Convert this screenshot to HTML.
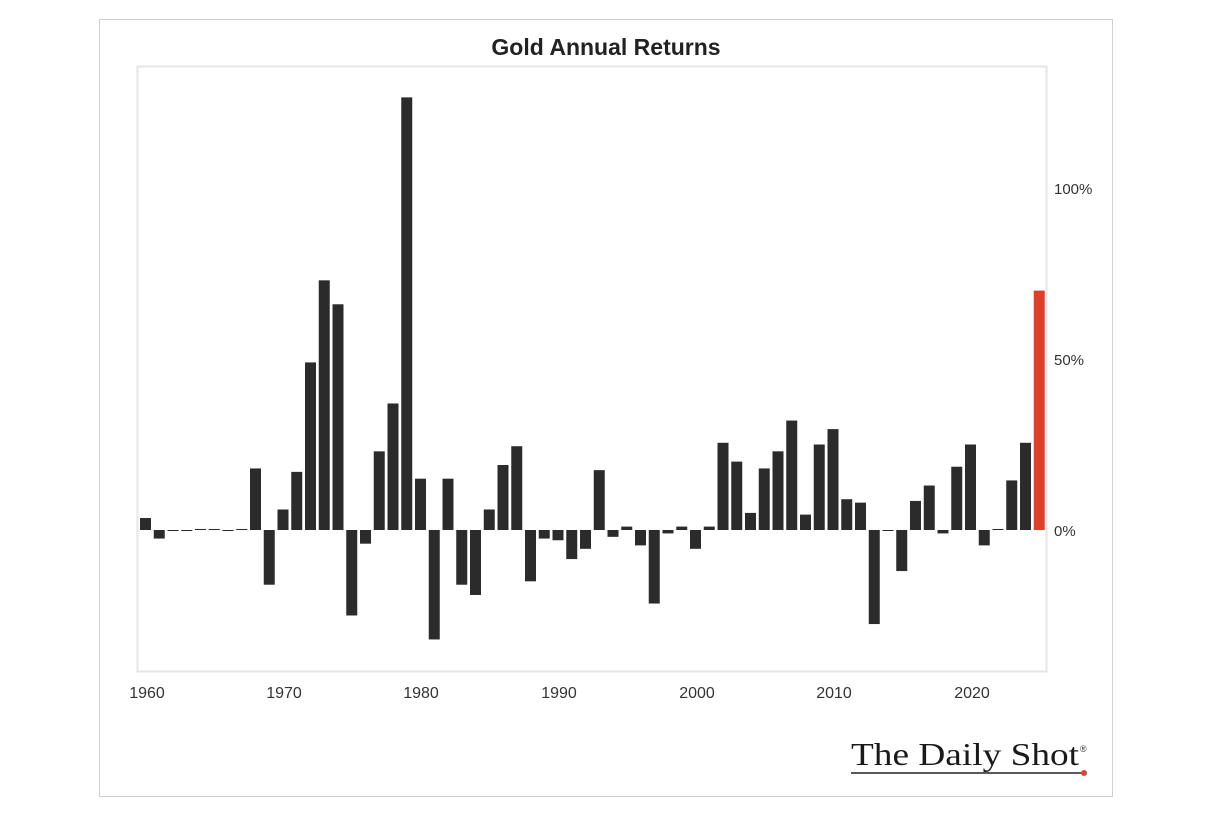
<!DOCTYPE html>
<html><head><meta charset="utf-8"><style>
html,body{margin:0;padding:0;background:#fff;}
svg{display:block;}
</style></head><body>
<svg width="1228" height="816" viewBox="0 0 1228 816" xmlns="http://www.w3.org/2000/svg">
<rect x="99.5" y="19.5" width="1013" height="777" fill="#fff" stroke="#d0d0d0" stroke-width="1"/>
<text x="606" y="55" text-anchor="middle" font-family="Liberation Sans, sans-serif" font-size="23" font-weight="bold" fill="#222">Gold Annual Returns</text>
<rect x="137.5" y="66.5" width="909" height="605" fill="none" stroke="#e6e6e6" stroke-width="2"/>
<g id="bars" fill="#2b2b2b"></g>
<g font-family="Liberation Sans, sans-serif" font-size="15" fill="#333">
<text x="1054" y="194">100%</text>
<text x="1054" y="365">50%</text>
<text x="1054" y="536">0%</text>
</g>
<g font-family="Liberation Sans, sans-serif" font-size="16" fill="#333" text-anchor="middle">
<text x="147" y="698">1960</text>
<text x="284" y="698">1970</text>
<text x="421" y="698">1980</text>
<text x="559" y="698">1990</text>
<text x="697" y="698">2000</text>
<text x="834" y="698">2010</text>
<text x="972" y="698">2020</text>
</g>
<text x="851" y="765" font-family="Liberation Serif, serif" font-size="32" fill="#1a1a1a" textLength="228" lengthAdjust="spacingAndGlyphs">The Daily Shot</text>
<text x="1080" y="752" font-family="Liberation Sans, sans-serif" font-size="9" fill="#333">®</text>
<line x1="851" y1="773" x2="1083" y2="773" stroke="#222" stroke-width="1.5"/>
<circle cx="1084" cy="773" r="3" fill="#e0442a"/>
</svg>
<script>
var v=[3.5,-2.5,-0.3,-0.3,0.3,0.3,-0.3,0.3,18,-16,6,17,49,73,66,-25,-4,23,37,126.5,15,-32,15,-16,-19,6,19,24.5,-15,-2.5,-3,-8.5,-5.5,17.5,-2,1,-4.5,-21.5,-1,1,-5.5,1,25.5,20,5,18,23,32,4.5,25,29.5,9,8,-27.5,-0.2,-12,8.5,13,-1,18.5,25,-4.5,0.3,14.5,25.5,70];
var g=document.getElementById('bars'),s='';
for(var i=0;i<v.length;i++){var x=140+i*13.75,h=Math.abs(v[i])*3.42,y=v[i]>=0?530-h:530;if(h<1)h=1;
s+='<rect x="'+x.toFixed(2)+'" y="'+y.toFixed(2)+'" width="11" height="'+h.toFixed(2)+'"'+(i==v.length-1?' fill="#e0402a"':'')+'/>';}
g.innerHTML=s;
</script>
</body></html>
